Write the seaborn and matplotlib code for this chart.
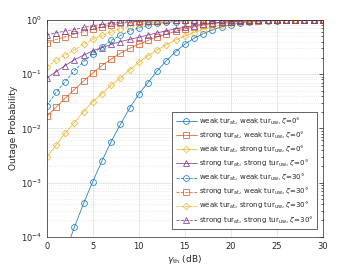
import numpy as np
import pandas as pd
import seaborn as sns
import matplotlib
matplotlib.use('Agg')
import matplotlib.pyplot as plt
from matplotlib.ticker import LogLocator, NullFormatter

sns.set_style('white')
plt.rcParams['font.family'] = ['DejaVu Sans']
plt.rcParams['mathtext.fontset'] = 'dejavusans'

# threshold SNR in dB
gamma_th = list(range(0, 31))

# zeta = 0 deg (solid)
ww_0 = [3e-6, 1.3e-5, 5e-5, 1.5e-4, 4.1e-4, 1.04e-3, 2.5e-3, 5.7e-3, 0.0118, 0.0235,
        0.043, 0.07, 0.115, 0.178, 0.26, 0.36, 0.46, 0.56, 0.66, 0.75,
        0.82, 0.88, 0.92, 0.95, 0.97, 0.98, 0.99, 0.995, 0.998, 0.999, 1.0]
sw_0 = [0.0166, 0.0245, 0.036, 0.052, 0.075, 0.105, 0.145, 0.19, 0.245, 0.30,
        0.36, 0.42, 0.49, 0.55, 0.62, 0.69, 0.75, 0.81, 0.86, 0.90,
        0.93, 0.955, 0.97, 0.98, 0.99, 0.995, 0.997, 0.999, 1.0, 1.0, 1.0]
ws_0 = [0.0029, 0.0049, 0.0082, 0.0127, 0.0204, 0.031, 0.044, 0.063, 0.085, 0.12,
        0.165, 0.22, 0.28, 0.35, 0.43, 0.51, 0.59, 0.67, 0.75, 0.82,
        0.87, 0.91, 0.94, 0.965, 0.98, 0.99, 0.995, 0.998, 0.999, 1.0, 1.0]
ss_0 = [0.085, 0.111, 0.145, 0.185, 0.225, 0.27, 0.31, 0.355, 0.40, 0.44,
        0.48, 0.53, 0.58, 0.635, 0.69, 0.74, 0.79, 0.84, 0.88, 0.91,
        0.94, 0.96, 0.975, 0.985, 0.99, 0.995, 0.998, 1.0, 1.0, 1.0, 1.0]

# zeta = 30 deg (dashed)
ww_30 = [0.026, 0.046, 0.073, 0.116, 0.17, 0.24, 0.32, 0.42, 0.52, 0.63,
         0.72, 0.80, 0.87, 0.91, 0.94, 0.965, 0.98, 0.99, 0.995, 0.997,
         0.999, 1.0, 1.0, 1.0, 1.0, 1.0, 1.0, 1.0, 1.0, 1.0, 1.0]
sw_30 = [0.38, 0.44, 0.49, 0.55, 0.61, 0.68, 0.75, 0.81, 0.87, 0.91,
         0.94, 0.96, 0.975, 0.985, 0.99, 0.995, 0.997, 0.999, 1.0, 1.0,
         1.0, 1.0, 1.0, 1.0, 1.0, 1.0, 1.0, 1.0, 1.0, 1.0, 1.0]
ws_30 = [0.137, 0.18, 0.226, 0.28, 0.36, 0.44, 0.52, 0.60, 0.69, 0.77,
         0.83, 0.88, 0.92, 0.95, 0.965, 0.975, 0.985, 0.99, 0.995, 0.997,
         0.999, 1.0, 1.0, 1.0, 1.0, 1.0, 1.0, 1.0, 1.0, 1.0, 1.0]
ss_30 = [0.53, 0.58, 0.63, 0.67, 0.73, 0.79, 0.83, 0.87, 0.91, 0.93,
         0.95, 0.965, 0.975, 0.985, 0.99, 0.995, 0.997, 0.999, 1.0, 1.0,
         1.0, 1.0, 1.0, 1.0, 1.0, 1.0, 1.0, 1.0, 1.0, 1.0, 1.0]

labels = [
    r'weak tur$_{\rm at}$, weak tur$_{\rm uw}$, $\zeta$=0°',
    r'strong tur$_{\rm at}$, weak tur$_{\rm uw}$, $\zeta$=0°',
    r'weak tur$_{\rm at}$, strong tur$_{\rm uw}$, $\zeta$=0°',
    r'strong tur$_{\rm at}$, strong tur$_{\rm uw}$, $\zeta$=0°',
    r'weak tur$_{\rm at}$, weak tur$_{\rm uw}$, $\zeta$=30°',
    r'strong tur$_{\rm at}$, weak tur$_{\rm uw}$, $\zeta$=30°',
    r'weak tur$_{\rm at}$, strong tur$_{\rm uw}$, $\zeta$=30°',
    r'strong tur$_{\rm at}$, strong tur$_{\rm uw}$, $\zeta$=30°',
]
series = [ww_0, sw_0, ws_0, ss_0, ww_30, sw_30, ws_30, ss_30]

colors = ['#0072BD', '#D95319', '#EDB120', '#7E2F8E']
markers = ['o', 's', 'D', '^']

fig = plt.figure(figsize=(3.57, 2.68), dpi=100)
ax = fig.add_axes([0.131, 0.117, 0.773, 0.808])

for i, (vals, lab) in enumerate(zip(series, labels)):
    k = i % 4
    ls = '-' if i < 4 else '--'
    sns.lineplot(x=gamma_th, y=vals, ax=ax, color=colors[k], linestyle=ls,
                 marker=markers[k], markersize=4.2 if markers[k] != 'D' else 3.4,
                 markerfacecolor='none', markeredgecolor=colors[k],
                 markeredgewidth=0.6, linewidth=0.6, label=lab, alpha=0.85)

ax.set_yscale('log')
ax.set_xlim(0, 30)
ax.set_ylim(1e-4, 1)
ax.set_xticks([0, 5, 10, 15, 20, 25, 30])
ax.yaxis.set_major_locator(LogLocator(base=10, numticks=10))
ax.yaxis.set_minor_locator(LogLocator(base=10, subs=np.arange(2, 10), numticks=10))
ax.yaxis.set_minor_formatter(NullFormatter())

ax.grid(which='major', color='#dedede', linewidth=0.5)
ax.grid(which='minor', axis='y', color='#dedede', linestyle=':', linewidth=0.5)
ax.tick_params(which='both', direction='in', top=True, right=True,
               labelsize=6, colors='#262626', width=0.5)
ax.tick_params(which='major', length=3)
ax.tick_params(which='minor', length=1.5)
for sp in ax.spines.values():
    sp.set_color('#262626')
    sp.set_linewidth(0.5)

ax.set_xlabel(r'$\gamma_{\rm th}$ (dB)', fontsize=6.5, color='#262626', labelpad=2)
ax.set_ylabel('Outage Probability', fontsize=6.5, color='#262626', labelpad=2)

leg = ax.legend(loc='lower right', bbox_to_anchor=(0.978, 0.035), borderaxespad=0,
                fontsize=5, handlelength=3.0, labelspacing=0.42, handletextpad=0.3,
                borderpad=0.5, fancybox=False, framealpha=1, edgecolor='#262626')
leg.get_frame().set_linewidth(0.5)

fig.savefig('out.png', dpi=100)
